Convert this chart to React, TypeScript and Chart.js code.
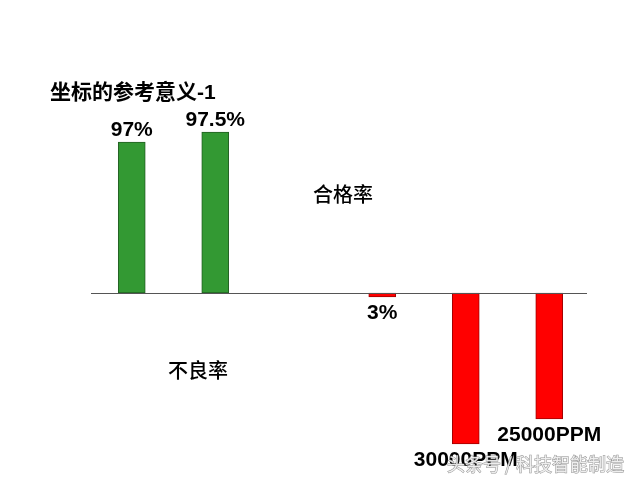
import React, { useEffect, useRef } from "react";
import { Chart, registerables } from "chart.js";

Chart.register(...registerables);

// Data (bar heights are in the chart's own arbitrary display units)
const categories = ["合格率A", "合格率B", "", "不良率A", "不良率B", "不良率C"];
const barValues = [151, 161, null, -4, -151, -126];
const valueLabels = ["97%", "97.5%", "", "3%", "30000PPM", "25000PPM"];
const barColors = ["#339933", "#339933", "#339933", "#ff0000", "#ff0000", "#ff0000"];
const borderColors = ["#235f23", "#235f23", "#235f23", "#a00000", "#a00000", "#a00000"];
const titleText = "坐标的参考意义-1";
const passText = "合格率";
const failText = "不良率";
const watermarkText = "头条号 / 科技智能制造";

const LATIN_CJK = '"Liberation Sans", "Noto Sans CJK SC", sans-serif';

const annotationPlugin = {
  id: "annotations",
  afterDatasetsDraw(chart: any) {
    const ctx = chart.ctx;
    const area = chart.chartArea;
    const yScale = chart.scales.y;
    const y0 = yScale.getPixelForValue(0);

    // baseline
    ctx.save();
    ctx.strokeStyle = "#555555";
    ctx.lineWidth = 1.2;
    ctx.beginPath();
    ctx.moveTo(area.left + 1, Math.round(y0) + 0.5);
    ctx.lineTo(area.right - 4, Math.round(y0) + 0.5);
    ctx.stroke();

    // value labels
    const meta = chart.getDatasetMeta(0);
    ctx.fillStyle = "#000000";
    ctx.font = `bold 21px ${LATIN_CJK}`;
    ctx.textAlign = "center";
    meta.data.forEach((bar: any, i: number) => {
      const v = barValues[i];
      const txt = valueLabels[i];
      if (v === null || !txt) return;
      if (v >= 0) {
        ctx.textBaseline = "bottom";
        ctx.fillText(txt, bar.x, bar.y - 1);
      } else {
        ctx.textBaseline = "top";
        ctx.fillText(txt, bar.x, bar.y + 6);
      }
    });

    // title
    ctx.textAlign = "left";
    ctx.textBaseline = "middle";
    ctx.font = `bold 21px ${LATIN_CJK}`;
    ctx.fillText(titleText, 50, 93);

    // region captions
    ctx.textAlign = "center";
    ctx.font = `500 20px "Noto Sans CJK SC", sans-serif`;
    ctx.fillText(passText, 343, 194);
    ctx.fillText(failText, 198, 370);

    // watermark
    ctx.font = `18px "Noto Sans CJK SC", sans-serif`;
    ctx.textAlign = "left";
    ctx.lineWidth = 1;
    ctx.strokeStyle = "rgba(120,120,120,0.8)";
    ctx.fillStyle = "rgba(245,245,245,0.9)";
    ctx.strokeText(watermarkText, 447, 464);
    ctx.fillText(watermarkText, 447, 464);
    ctx.restore();
  },
};

function BarChart() {
  const ref = useRef<HTMLCanvasElement | null>(null);
  useEffect(() => {
    if (!ref.current) return;
    const chart = new Chart(ref.current, {
      type: "bar",
      data: {
        labels: categories,
        datasets: [
          {
            data: barValues as any,
            backgroundColor: barColors,
            borderColor: borderColors,
            borderWidth: 1,
            borderSkipped: false,
            barThickness: 27,
          },
        ],
      },
      options: {
        animation: false,
        responsive: false,
        layout: { padding: { top: 103, bottom: 17, left: 90, right: 49 } },
        plugins: {
          legend: { display: false },
          tooltip: { enabled: false },
          title: { display: false },
        },
        scales: {
          x: { display: false, grid: { display: false } },
          y: { display: false, min: -170, max: 190 },
        },
      },
      plugins: [annotationPlugin],
    });
    return () => chart.destroy();
  }, []);
  return <canvas ref={ref} width={640} height={480} style={{ display: "block" }} />;
}

export default function App() {
  return (
    <div style={{ position: "absolute", left: 0, top: 0, width: 640, height: 480, background: "#ffffff" }}>
      <BarChart />
    </div>
  );
}
